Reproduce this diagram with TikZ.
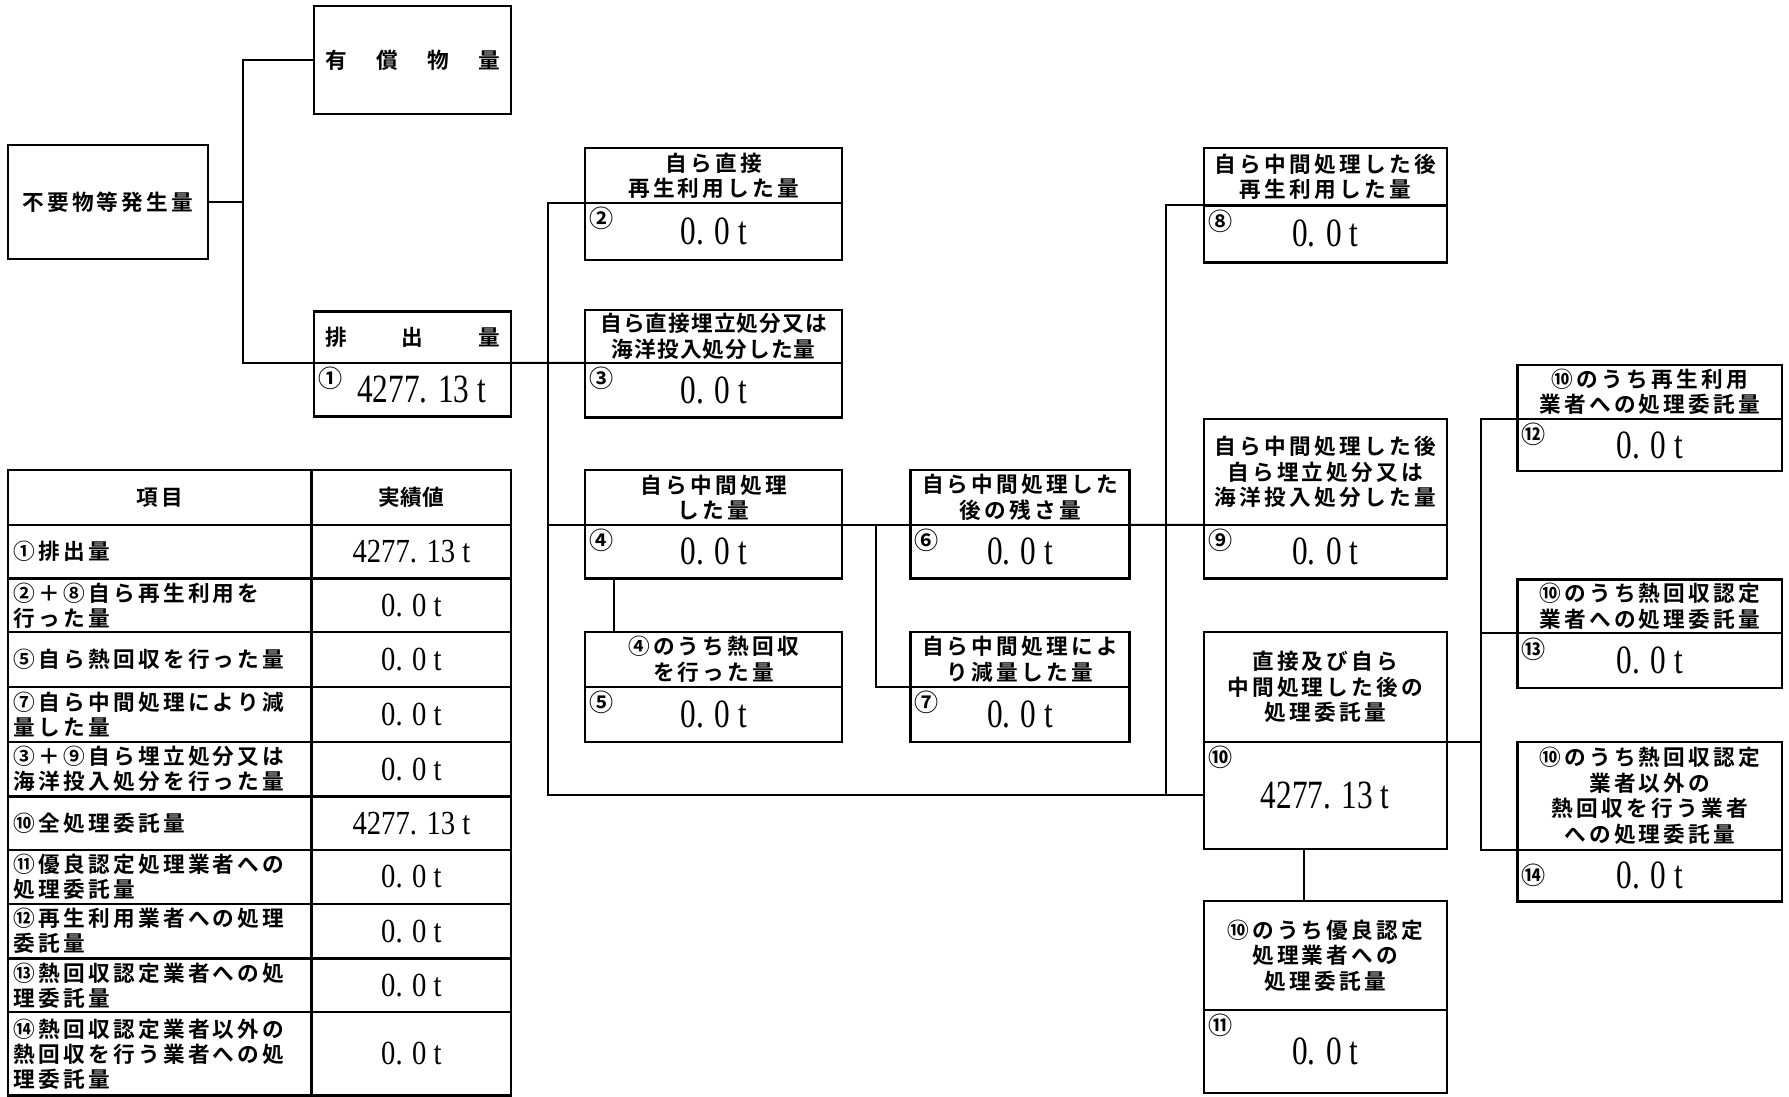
\documentclass[tikz,border=0pt]{standalone}
\usepackage{fontspec}
\usetikzlibrary{positioning,calc}
\newfontfamily\jpfont[LetterSpace=15]{Noto Sans CJK JP Bold}
\newfontfamily\jpnarrow[LetterSpace=5]{Noto Sans CJK JP Bold}
\newfontfamily\jpplain{Noto Sans CJK JP Bold}
\newfontfamily\valfont[FakeStretch=0.78]{Liberation Serif}
\newfontfamily\tabval[FakeStretch=0.85]{Liberation Serif}

\begin{document}
\begin{tikzpicture}[
    x=0.025cm, y=-0.025cm,
    box/.style={
        draw, line width=1.4pt, inner sep=0pt, outer sep=0pt, align=center,
        font=\jpfont\fontsize{13.5}{16}\selectfont
    },
    val/.style={
        draw, line width=1.4pt, inner sep=0pt, outer sep=0pt,
        font=\valfont\fontsize{25}{25}\selectfont
    },
    circnum/.style={anchor=north west, inner sep=2.5pt, font=\jpplain\fontsize{15}{15}\selectfont},
    tcellL/.style={
        draw, line width=1.4pt, outer sep=0pt, inner xsep=0.125cm, inner ysep=0pt,
        text width=6.4cm, align=left, font=\jpfont\fontsize{13.5}{15.6}\selectfont
    },
    tcellR/.style={
        draw, line width=1.4pt, outer sep=0pt, inner sep=0pt, minimum width=4.375cm,
        font=\tabval\fontsize{21}{21}\selectfont
    },
    conn/.style={line width=1.3pt}
]
    \useasboundingbox (0,0) rectangle (1568,961);

    % Generated amount and its two branches
    \node [box, minimum width=4.375cm, minimum height=2.5cm, anchor=north west] (gen) at (7,127) {不要物等発生量};
    \node [box, font=\jpplain\fontsize{13.5}{16}\selectfont, text width=3.825cm, inner xsep=0.25cm,
           minimum height=2.375cm, anchor=north west] (yusho) at (275,5) {有\hfill 償\hfill 物\hfill 量};
    \node [box, font=\jpplain\fontsize{13.5}{16}\selectfont, text width=3.825cm, inner xsep=0.25cm,
           minimum height=1.125cm, anchor=north west] (h1) at (275,273) {排\hfill 出\hfill 量};
    \node [val, minimum width=4.325cm, minimum height=1.175cm, below=0pt of h1, label={[circnum]north west:①}] (v1) {\hspace{0.4cm}4277. 13 t};

    % Column 2: direct handling and own intermediate treatment
    \node [box, minimum width=5.625cm, minimum height=1.2cm, anchor=north west] (h2) at (513,130) {自ら直接\\再生利用した量};
    \node [val, minimum width=5.625cm, minimum height=1.25cm, below=0pt of h2, label={[circnum]north west:②}] (v2) {0. 0 t};

    \node [box, font=\jpnarrow\fontsize{13.5}{16}\selectfont, minimum width=5.625cm, minimum height=1.15cm, anchor=north west] (h3) at (513,272) {自ら直接埋立処分又は\\海洋投入処分した量};
    \node [val, minimum width=5.625cm, minimum height=1.2cm, below=0pt of h3, label={[circnum]north west:③}] (v3) {0. 0 t};

    \node [box, minimum width=5.625cm, minimum height=1.2cm, anchor=north west] (h4) at (513,412) {自ら中間処理\\した量};
    \node [val, minimum width=5.625cm, minimum height=1.175cm, below=0pt of h4, label={[circnum]north west:④}] (v4) {0. 0 t};

    \node [box, minimum width=5.625cm, minimum height=1.2cm, anchor=north west] (h5) at (513,554) {④のうち熱回収\\を行った量};
    \node [val, minimum width=5.625cm, minimum height=1.2cm, below=0pt of h5, label={[circnum]north west:⑤}] (v5) {0. 0 t};

    % Column 3: after own intermediate treatment
    \node [box, minimum width=4.8cm, minimum height=1.2cm, anchor=north west] (h6) at (798,412) {自ら中間処理した\\後の残さ量};
    \node [val, minimum width=4.8cm, minimum height=1.175cm, below=0pt of h6, label={[circnum]north west:⑥}] (v6) {0. 0 t};

    \node [box, minimum width=4.8cm, minimum height=1.2cm, anchor=north west] (h7) at (798,554) {自ら中間処理によ\\り減量した量};
    \node [val, minimum width=4.8cm, minimum height=1.2cm, below=0pt of h7, label={[circnum]north west:⑦}] (v7) {0. 0 t};

    % Column 4
    \node [box, minimum width=5.325cm, minimum height=1.25cm, anchor=north west] (h8) at (1055,130) {自ら中間処理した後\\再生利用した量};
    \node [val, minimum width=5.325cm, minimum height=1.25cm, below=0pt of h8, label={[circnum]north west:⑧}] (v8) {0. 0 t};

    \node [box, minimum width=5.325cm, minimum height=2.325cm, anchor=north west] (h9) at (1055,367) {自ら中間処理した後\\自ら埋立処分又は\\海洋投入処分した量};
    \node [val, minimum width=5.325cm, minimum height=1.175cm, below=0pt of h9, label={[circnum]north west:⑨}] (v9) {0. 0 t};

    \node [box, minimum width=5.325cm, minimum height=2.4cm, anchor=north west] (h10) at (1055,554) {直接及び自ら\\中間処理した後の\\処理委託量};
    \node [val, minimum width=5.325cm, minimum height=2.35cm, below=0pt of h10, label={[circnum]north west:⑩}] (v10) {4277. 13 t};

    \node [box, minimum width=5.325cm, minimum height=2.375cm, anchor=north west] (h11) at (1055,790) {⑩のうち優良認定\\処理業者への\\処理委託量};
    \node [val, minimum width=5.325cm, minimum height=1.825cm, below=0pt of h11, label={[circnum]north west:⑪}] (v11) {0. 0 t};

    % Column 5: entrusted to contractors
    \node [box, minimum width=5.8cm, minimum height=1.175cm, anchor=north west] (h12) at (1330,320) {⑩のうち再生利用\\業者への処理委託量};
    \node [val, minimum width=5.8cm, minimum height=1.15cm, below=0pt of h12, label={[circnum]north west:⑫}] (v12) {0. 0 t};

    \node [box, minimum width=5.8cm, minimum height=1.175cm, anchor=north west] (h13) at (1330,508) {⑩のうち熱回収認定\\業者への処理委託量};
    \node [val, minimum width=5.8cm, minimum height=1.2cm, below=0pt of h13, label={[circnum]north west:⑬}] (v13) {0. 0 t};

    \node [box, minimum width=5.8cm, minimum height=2.375cm, anchor=north west] (h14) at (1330,650) {⑩のうち熱回収認定\\業者以外の\\熱回収を行う業者\\への処理委託量};
    \node [val, minimum width=5.8cm, minimum height=1.125cm, below=0pt of h14, label={[circnum, anchor=west]west:⑭}] (v14) {0. 0 t};

    % Junction lines
    \coordinate (tr1) at (480,0);
    \coordinate (tr2) at (1022,0);
    \coordinate (tr3) at (1298,0);
    \coordinate (br7) at (768,0);

    \draw [conn] (gen.east) -- ++(31,0) coordinate (jgen);
    \draw [conn] (yusho.west) -| (jgen) |- (h1.south west);
    \draw [conn] (h1.south east) -- (h3.south west);
    \draw [conn] (h2.south west) -- (h2.south west -| tr1) -- (v10.west -| tr1) -- (v10.west);
    \draw [conn] (h4.south west) -- (h4.south west -| tr1);
    \draw [conn] ($(v4.south west)+(25,0)$) -- ($(h5.north west)+(25,0)$);
    \draw [conn] (h4.south east) -- (h6.south west);
    \draw [conn] (br7 |- h6.south west) |- (h7.south west);
    \draw [conn] (h6.south east) -- (h9.south west);
    \draw [conn] (h8.south west) -| (tr2 |- v10.west);
    \draw [conn] ($(v10.south west)+(88,0)$) -- ($(h11.north west)+(88,0)$);
    \draw [conn] (h10.south east) -- (h10.south east -| tr3);
    \draw [conn] (h12.south west) -| (tr3 |- h14.south west) -- (h14.south west);
    \draw [conn] (h13.south west) -- (h13.south west -| tr3);

    % Summary table
    \node [tcellL, align=center, minimum height=1.2cm, anchor=north west] (t0l) at (7,412) {項目};
    \node [tcellR, font=\jpplain\fontsize{13.5}{13.5}\selectfont, minimum height=1.2cm, right=0pt of t0l] (t0r) {実績値};
    \node [tcellL, minimum height=1.175cm, below=0pt of t0l] (t1l) {①排出量};
    \node [tcellR, minimum height=1.175cm, right=0pt of t1l] (t1r) {4277. 13 t};
    \node [tcellL, minimum height=1.175cm, below=0pt of t1l] (t2l) {②＋⑧自ら再生利用を\\行った量};
    \node [tcellR, minimum height=1.175cm, right=0pt of t2l] (t2r) {0. 0 t};
    \node [tcellL, minimum height=1.2cm, below=0pt of t2l] (t3l) {⑤自ら熱回収を行った量};
    \node [tcellR, minimum height=1.2cm, right=0pt of t3l] (t3r) {0. 0 t};
    \node [tcellL, minimum height=1.2cm, below=0pt of t3l] (t4l) {⑦自ら中間処理により減\\量した量};
    \node [tcellR, minimum height=1.2cm, right=0pt of t4l] (t4r) {0. 0 t};
    \node [tcellL, minimum height=1.2cm, below=0pt of t4l] (t5l) {③＋⑨自ら埋立処分又は\\海洋投入処分を行った量};
    \node [tcellR, minimum height=1.2cm, right=0pt of t5l] (t5r) {0. 0 t};
    \node [tcellL, minimum height=1.175cm, below=0pt of t5l] (t6l) {⑩全処理委託量};
    \node [tcellR, minimum height=1.175cm, right=0pt of t6l] (t6r) {4277. 13 t};
    \node [tcellL, minimum height=1.175cm, below=0pt of t6l] (t7l) {⑪優良認定処理業者への\\処理委託量};
    \node [tcellR, minimum height=1.175cm, right=0pt of t7l] (t7r) {0. 0 t};
    \node [tcellL, minimum height=1.2cm, below=0pt of t7l] (t8l) {⑫再生利用業者への処理\\委託量};
    \node [tcellR, minimum height=1.2cm, right=0pt of t8l] (t8r) {0. 0 t};
    \node [tcellL, minimum height=1.175cm, below=0pt of t8l] (t9l) {⑬熱回収認定業者への処\\理委託量};
    \node [tcellR, minimum height=1.175cm, right=0pt of t9l] (t9r) {0. 0 t};
    \node [tcellL, minimum height=1.825cm, below=0pt of t9l] (t10l) {⑭熱回収認定業者以外の\\熱回収を行う業者への処\\理委託量};
    \node [tcellR, minimum height=1.825cm, right=0pt of t10l] (t10r) {0. 0 t};

\end{tikzpicture}
\end{document}
